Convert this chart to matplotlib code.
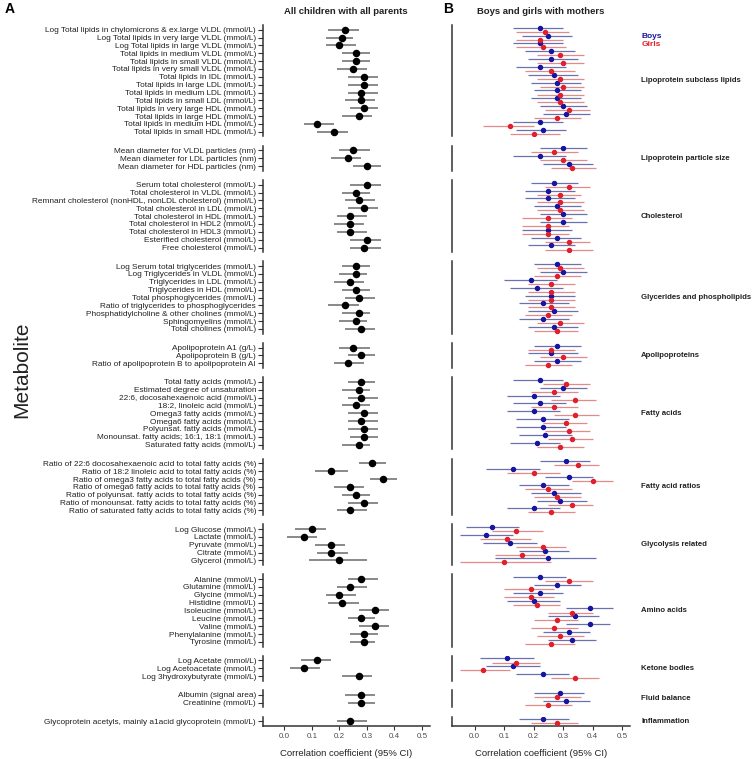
import numpy as np
import matplotlib
matplotlib.use('Agg')
import matplotlib.pyplot as plt

plt.rcParams['font.family'] = ['Liberation Sans', 'DejaVu Sans']

group_names = ['Lipoprotein subclass lipids', 'Lipoprotein particle size', 'Cholesterol',
               'Glycerides and phospholipids', 'Apolipoproteins', 'Fatty acids',
               'Fatty acid ratios', 'Glycolysis related', 'Amino acids',
               'Ketone bodies', 'Fluid balance', 'Inflammation']
group_sizes = [14, 3, 9, 9, 3, 9, 7, 5, 9, 3, 2, 1]

metabolites = [
    'Log Total lipids in chylomicrons & ex.large VLDL (mmol/L)',
    'Log Total lipids in very large VLDL (mmol/L)',
    'Log Total lipids in large VLDL (mmol/L)',
    'Total lipids in medium VLDL (mmol/L)',
    'Total lipids in small VLDL (mmol/L)',
    'Total lipids in very small VLDL (mmol/L)',
    'Total lipids in IDL (mmol/L)',
    'Total lipids in large LDL (mmol/L)',
    'Total lipids in medium LDL (mmol/L)',
    'Total lipids in small LDL (mmol/L)',
    'Total lipids in very large HDL (mmol/L)',
    'Total lipids in large HDL (mmol/L)',
    'Total lipids in medium HDL (mmol/L)',
    'Total lipids in small HDL (mmol/L)',
    'Mean diameter for VLDL particles (nm)',
    'Mean diameter for LDL particles (nm)',
    'Mean diameter for HDL particles (nm)',
    'Serum total cholesterol (mmol/L)',
    'Total cholesterol in VLDL (mmol/L)',
    'Remnant cholesterol (nonHDL, nonLDL cholesterol) (mmol/L)',
    'Total cholesterol in LDL (mmol/L)',
    'Total cholesterol in HDL (mmol/L)',
    'Total cholesterol in HDL2 (mmol/L)',
    'Total cholesterol in HDL3 (mmol/L)',
    'Esterified cholesterol (mmol/L)',
    'Free cholesterol (mmol/L)',
    'Log Serum total triglycerides (mmol/L)',
    'Log Triglycerides in VLDL (mmol/L)',
    'Triglycerides in LDL (mmol/L)',
    'Triglycerides in HDL (mmol/L)',
    'Total phosphoglycerides (mmol/L)',
    'Ratio of triglycerides to phosphoglycerides',
    'Phosphatidylcholine & other cholines (mmol/L)',
    'Sphingomyelins (mmol/L)',
    'Total cholines (mmol/L)',
    'Apolipoprotein A1 (g/L)',
    'Apolipoprotein B (g/L)',
    'Ratio of apolipoprotein B to apolipoprotein AI',
    'Total fatty acids (mmol/L)',
    'Estimated degree of unsaturation',
    '22:6, docosahexaenoic acid (mmol/L)',
    '18:2, linoleic acid (mmol/L)',
    'Omega3 fatty acids (mmol/L)',
    'Omega6 fatty acids (mmol/L)',
    'Polyunsat. fatty acids (mmol/L)',
    'Monounsat. fatty acids; 16:1, 18:1 (mmol/L)',
    'Saturated fatty acids (mmol/L)',
    'Ratio of 22:6 docosahexaenoic acid to total fatty acids (%)',
    'Ratio of 18:2 linoleic acid to total fatty acids (%)',
    'Ratio of omega3 fatty acids to total fatty acids (%)',
    'Ratio of omega6 fatty acids to total fatty acids (%)',
    'Ratio of polyunsat. fatty acids to total fatty acids (%)',
    'Ratio of monounsat. fatty acids to total fatty acids (%)',
    'Ratio of saturated fatty acids to total fatty acids (%)',
    'Log Glucose (mmol/L)',
    'Lactate (mmol/L)',
    'Pyruvate (mmol/L)',
    'Citrate (mmol/L)',
    'Glycerol (mmol/L)',
    'Alanine (mmol/L)',
    'Glutamine (mmol/L)',
    'Glycine (mmol/L)',
    'Histidine (mmol/L)',
    'Isoleucine (mmol/L)',
    'Leucine (mmol/L)',
    'Valine (mmol/L)',
    'Phenylalanine (mmol/L)',
    'Tyrosine (mmol/L)',
    'Log Acetate (mmol/L)',
    'Log Acetoacetate (mmol/L)',
    'Log 3hydroxybutyrate (mmol/L)',
    'Albumin (signal area)',
    'Creatinine (mmol/L)',
    'Glycoprotein acetyls, mainly a1acid glycoprotein (mmol/L)',
]

# panel A: all children with all parents
all_r = [0.22, 0.21, 0.20, 0.26, 0.26, 0.25, 0.29, 0.29, 0.28, 0.28, 0.29, 0.27, 0.12, 0.18,
         0.25, 0.23, 0.30,
         0.30, 0.26, 0.27, 0.29, 0.24, 0.24, 0.24, 0.30, 0.29,
         0.26, 0.26, 0.24, 0.26, 0.27, 0.22, 0.27, 0.26, 0.28,
         0.25, 0.28, 0.23,
         0.28, 0.27, 0.28, 0.26, 0.29, 0.28, 0.29, 0.29, 0.27,
         0.32, 0.17, 0.36, 0.24, 0.26, 0.29, 0.24,
         0.10, 0.07, 0.17, 0.17, 0.20,
         0.28, 0.24, 0.20, 0.21, 0.33, 0.28, 0.33, 0.29, 0.29,
         0.12, 0.07, 0.27,
         0.28, 0.28,
         0.24]
all_lo = [0.16, 0.15, 0.15, 0.21, 0.21, 0.19, 0.23, 0.23, 0.23, 0.22, 0.24, 0.21, 0.07, 0.12,
          0.20, 0.17, 0.25,
          0.24, 0.21, 0.22, 0.23, 0.19, 0.18, 0.19, 0.24, 0.24,
          0.21, 0.20, 0.18, 0.21, 0.22, 0.16, 0.21, 0.20, 0.22,
          0.20, 0.23, 0.18,
          0.23, 0.21, 0.23, 0.21, 0.23, 0.23, 0.23, 0.24, 0.21,
          0.27, 0.11, 0.31, 0.18, 0.21, 0.23, 0.19,
          0.04, 0.01, 0.11, 0.12, 0.09,
          0.23, 0.19, 0.15, 0.16, 0.27, 0.23, 0.27, 0.24, 0.24,
          0.06, 0.02, 0.21,
          0.22, 0.23,
          0.19]
all_hi = [0.27, 0.25, 0.26, 0.31, 0.31, 0.30, 0.34, 0.34, 0.34, 0.33, 0.34, 0.32, 0.18, 0.23,
          0.31, 0.28, 0.35,
          0.35, 0.31, 0.33, 0.34, 0.30, 0.29, 0.30, 0.35, 0.35,
          0.31, 0.30, 0.29, 0.31, 0.33, 0.27, 0.31, 0.30, 0.33,
          0.31, 0.33, 0.29,
          0.33, 0.31, 0.34, 0.31, 0.34, 0.34, 0.34, 0.34, 0.31,
          0.37, 0.23, 0.41, 0.29, 0.31, 0.34, 0.30,
          0.15, 0.12, 0.22, 0.23, 0.30,
          0.34, 0.30, 0.26, 0.27, 0.38, 0.33, 0.38, 0.34, 0.33,
          0.17, 0.13, 0.32,
          0.33, 0.33,
          0.30]

# panel B: boys with mothers
boys_r = [0.22, 0.25, 0.22, 0.26, 0.26, 0.22, 0.27, 0.28, 0.28, 0.28, 0.30, 0.31, 0.22, 0.23,
          0.30, 0.22, 0.32,
          0.27, 0.25, 0.25, 0.28, 0.30, 0.30, 0.25, 0.28, 0.26,
          0.28, 0.30, 0.19, 0.21, 0.26, 0.23, 0.27, 0.23, 0.27,
          0.28, 0.26, 0.28,
          0.22, 0.30, 0.20, 0.22, 0.20, 0.23, 0.23, 0.24, 0.21,
          0.31, 0.13, 0.32, 0.23, 0.27, 0.29, 0.20,
          0.06, 0.04, 0.12, 0.24, 0.25,
          0.22, 0.28, 0.22, 0.20, 0.39, 0.34, 0.39, 0.32, 0.33,
          0.11, 0.13, 0.23,
          0.29, 0.31,
          0.23]
boys_lo = [0.13, 0.16, 0.13, 0.17, 0.18, 0.14, 0.18, 0.19, 0.20, 0.19, 0.22, 0.23, 0.13, 0.14,
           0.22, 0.13, 0.23,
           0.19, 0.17, 0.17, 0.20, 0.22, 0.22, 0.16, 0.19, 0.18,
           0.20, 0.22, 0.10, 0.12, 0.17, 0.15, 0.18, 0.15, 0.18,
           0.20, 0.18, 0.20,
           0.13, 0.22, 0.11, 0.13, 0.11, 0.14, 0.14, 0.15, 0.12,
           0.22, 0.04, 0.24, 0.15, 0.19, 0.21, 0.11,
           -0.03, -0.05, 0.03, 0.15, 0.07,
           0.13, 0.20, 0.13, 0.11, 0.31, 0.25, 0.31, 0.23, 0.25,
           0.02, 0.04, 0.14,
           0.20, 0.23,
           0.15]
boys_hi = [0.30, 0.33, 0.30, 0.34, 0.35, 0.31, 0.35, 0.36, 0.36, 0.36, 0.38, 0.39, 0.30, 0.31,
           0.38, 0.31, 0.40,
           0.35, 0.34, 0.34, 0.36, 0.38, 0.38, 0.33, 0.36, 0.34,
           0.36, 0.38, 0.28, 0.30, 0.34, 0.32, 0.35, 0.32, 0.35,
           0.36, 0.35, 0.36,
           0.30, 0.38, 0.29, 0.31, 0.29, 0.32, 0.31, 0.33, 0.29,
           0.39, 0.22, 0.40, 0.32, 0.36, 0.38, 0.29,
           0.15, 0.13, 0.21, 0.32, 0.41,
           0.31, 0.36, 0.30, 0.29, 0.47, 0.42, 0.46, 0.39, 0.41,
           0.20, 0.22, 0.32,
           0.37, 0.39,
           0.32]

# panel B: girls with mothers
girls_r = [0.24, 0.22, 0.23, 0.29, 0.30, 0.26, 0.29, 0.30, 0.29, 0.29, 0.32, 0.28, 0.12, 0.20,
           0.27, 0.30, 0.33,
           0.32, 0.29, 0.29, 0.29, 0.25, 0.25, 0.25, 0.32, 0.32,
           0.29, 0.28, 0.26, 0.26, 0.26, 0.26, 0.25, 0.29, 0.28,
           0.26, 0.30, 0.25,
           0.31, 0.27, 0.34, 0.27, 0.34, 0.31, 0.32, 0.33, 0.29,
           0.35, 0.20, 0.40, 0.25, 0.28, 0.33, 0.26,
           0.14, 0.11, 0.23, 0.16, 0.10,
           0.32, 0.19, 0.19, 0.21, 0.33, 0.28, 0.27, 0.29, 0.26,
           0.14, 0.03, 0.34,
           0.28, 0.25,
           0.28]
girls_lo = [0.14, 0.14, 0.14, 0.21, 0.21, 0.17, 0.21, 0.22, 0.21, 0.21, 0.24, 0.20, 0.03, 0.12,
            0.19, 0.22, 0.26,
            0.24, 0.21, 0.21, 0.21, 0.16, 0.16, 0.16, 0.24, 0.24,
            0.21, 0.20, 0.18, 0.18, 0.18, 0.18, 0.17, 0.21, 0.20,
            0.18, 0.22, 0.17,
            0.23, 0.19, 0.26, 0.19, 0.27, 0.23, 0.24, 0.25, 0.21,
            0.27, 0.11, 0.33, 0.17, 0.20, 0.25, 0.18,
            0.06, 0.02, 0.14, 0.07, -0.05,
            0.24, 0.10, 0.10, 0.13, 0.25, 0.20, 0.19, 0.21, 0.17,
            0.06, -0.05, 0.26,
            0.20, 0.17,
            0.19]
girls_hi = [0.32, 0.30, 0.31, 0.37, 0.37, 0.34, 0.37, 0.37, 0.37, 0.37, 0.39, 0.36, 0.20, 0.29,
            0.35, 0.38, 0.41,
            0.39, 0.36, 0.37, 0.37, 0.33, 0.32, 0.32, 0.39, 0.40,
            0.37, 0.36, 0.34, 0.34, 0.34, 0.34, 0.33, 0.37, 0.35,
            0.34, 0.38, 0.33,
            0.39, 0.35, 0.41, 0.35, 0.42, 0.38, 0.39, 0.40, 0.37,
            0.42, 0.29, 0.47, 0.33, 0.36, 0.40, 0.34,
            0.23, 0.19, 0.31, 0.24, 0.26,
            0.40, 0.27, 0.27, 0.29, 0.40, 0.35, 0.35, 0.37, 0.34,
            0.22, 0.12, 0.42,
            0.36, 0.33,
            0.35]

xticks = [0.0, 0.1, 0.2, 0.3, 0.4, 0.5]

W, H = 756, 759
fig = plt.figure(figsize=(W / 100, H / 100), dpi=100)

xlim = (-0.0775, 0.5275)
pad = 0.6
ratios = [n - 1 + 2 * pad for n in group_sizes]
top = 1 - 25 / H
bottom = 1 - 726 / H
hs = 0.184

gsA = fig.add_gridspec(len(group_sizes), 1, left=263 / W, right=429.6 / W,
                       top=top, bottom=bottom, hspace=hs, height_ratios=ratios)
gsB = fig.add_gridspec(len(group_sizes), 1, left=451.7 / W, right=630.4 / W,
                       top=top, bottom=bottom, hspace=hs, height_ratios=ratios)

txt_col = '#222222'
spine_col = '#333333'
boys_dot, girls_dot = '#1616a0', '#e0202a'
boys_line, girls_line = '#6872b0', '#e38a8a'


def style_axis(ax, n, last):
    ax.set_xlim(*xlim)
    ax.set_ylim(n - 1 + pad, -pad)
    for s in ['top', 'right']:
        ax.spines[s].set_visible(False)
    ax.spines['left'].set_color(spine_col)
    ax.spines['left'].set_linewidth(1.1)
    ax.patch.set_alpha(0)
    if last:
        ax.spines['bottom'].set_color(spine_col)
        ax.spines['bottom'].set_linewidth(1.1)
        ax.set_xticks(xticks)
        ax.set_xticklabels(['%.1f' % t for t in xticks])
        ax.tick_params(axis='x', length=2.8, width=0.8, color=spine_col, pad=2,
                       labelsize=5.8, labelcolor='#4d4d4d')
    else:
        ax.spines['bottom'].set_visible(False)
        ax.set_xticks([])


start = 0
for i, n in enumerate(group_sizes):
    last = i == len(group_sizes) - 1
    sl = slice(start, start + n)
    y = np.arange(n)

    # panel A
    ax = fig.add_subplot(gsA[i])
    ax.hlines(y, all_lo[sl], all_hi[sl], color='#6a6a6a', lw=1.1, zorder=2)
    ax.plot(all_r[sl], y, 'o', color='black', ms=4.4, zorder=3)
    style_axis(ax, n, last)
    ax.set_yticks(y)
    ax.set_yticklabels(metabolites[sl])
    ax.tick_params(axis='y', length=3.5, width=0.8, color=spine_col, pad=1.5,
                   labelsize=5.95, labelcolor=txt_col)

    # panel B
    bx = fig.add_subplot(gsB[i])
    yb = y - 0.26
    yg = y + 0.26
    bx.hlines(yb, boys_lo[sl], boys_hi[sl], color=boys_line, lw=0.9, zorder=2)
    bx.hlines(yg, girls_lo[sl], girls_hi[sl], color=girls_line, lw=0.9, zorder=2)
    bx.plot(boys_r[sl], yb, 'o', color=boys_dot, ms=2.9, zorder=3)
    bx.plot(girls_r[sl], yg, 'o', color=girls_dot, ms=2.9, zorder=3)
    style_axis(bx, n, last)
    bx.set_yticks([])
    bx.text(1.06, 0.5, group_names[i], transform=bx.transAxes, ha='left', va='center',
            fontsize=5.6, fontweight='bold', color=txt_col)

    start += n

# titles and labels
fig.text(346 / W, 1 - 12 / H, 'All children with all parents', ha='center', va='center',
         fontsize=6.8, fontweight='bold', color=txt_col)
fig.text(541 / W, 1 - 12 / H, 'Boys and girls with mothers', ha='center', va='center',
         fontsize=6.8, fontweight='bold', color=txt_col)
fig.text(10 / W, 1 - 9 / H, 'A', ha='center', va='center', fontsize=10, fontweight='bold')
fig.text(448 / W, 1 - 9 / H, 'B', ha='center', va='center', fontsize=10, fontweight='bold')
fig.text(346 / W, 1 - 753 / H, 'Correlation coefficient (95% CI)', ha='center', va='center',
         fontsize=6.8, color=txt_col)
fig.text(541 / W, 1 - 753 / H, 'Correlation coefficient (95% CI)', ha='center', va='center',
         fontsize=6.8, color=txt_col)
fig.text(22 / W, 1 - 370 / H, 'Metabolite', ha='center', va='center', rotation=90,
         fontsize=15, color=txt_col)
fig.text(642 / W, 1 - 36 / H, 'Boys', ha='left', va='center', fontsize=6.0,
         fontweight='bold', color=boys_dot)
fig.text(642 / W, 1 - 44 / H, 'Girls', ha='left', va='center', fontsize=6.0,
         fontweight='bold', color=girls_dot)

fig.savefig('out.png', dpi=100)
